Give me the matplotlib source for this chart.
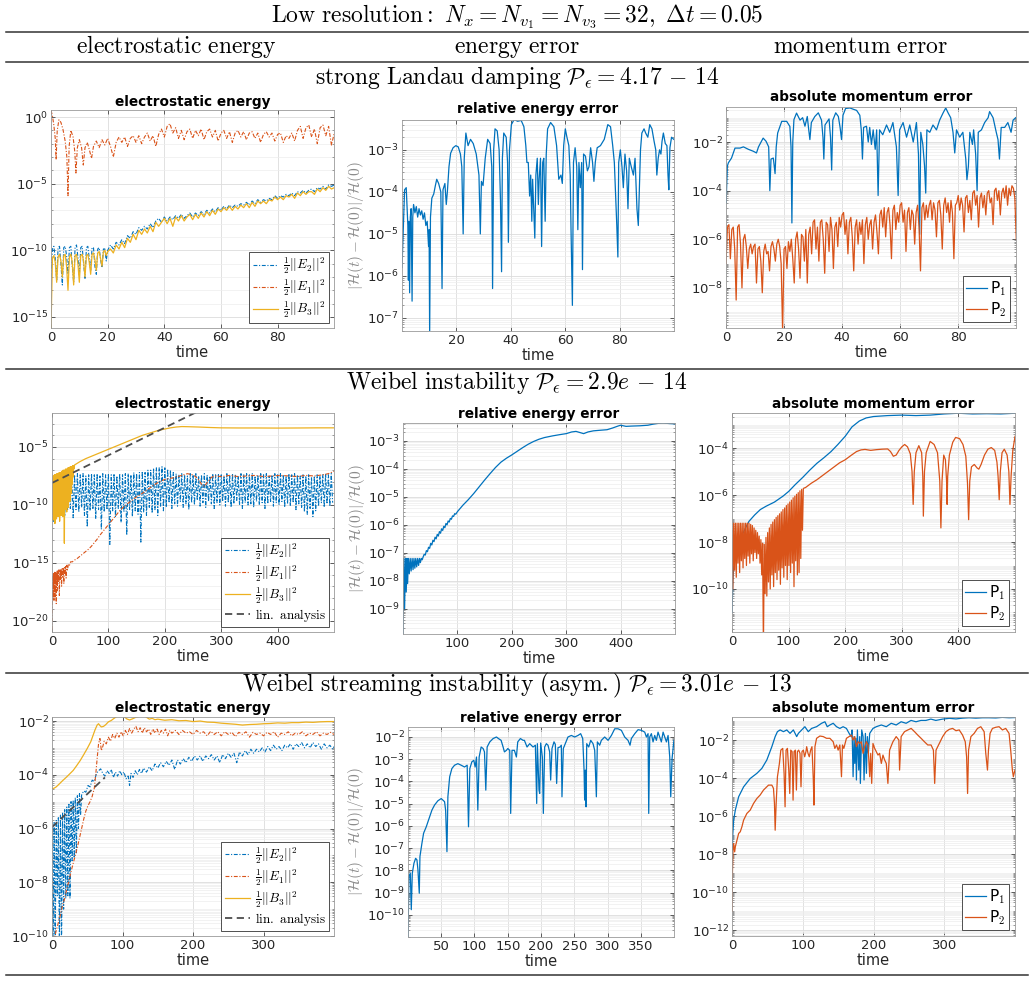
import numpy as np
import matplotlib
matplotlib.use('Agg')
import matplotlib.pyplot as plt
from matplotlib.lines import Line2D
from matplotlib.ticker import FixedLocator, FuncFormatter, NullFormatter

plt.rcParams['font.family'] = 'DejaVu Sans'
plt.rcParams['mathtext.fontset'] = 'cm'

W, H = 1034, 982
BLUE = '#0072BD'
ORANGE = '#D95319'
YELLOW = '#EDB120'
LINGREY = '#4d4d4d'

# ---------------- data (log10 of the plotted quantity) ----------------
# row 1: strong Landau damping, t in [0, 100]
R1_E2_EARLY = [-12.0, -9.9, -9.7, -10.6, -12.3, -9.8, -9.7, -11.0, -12.6, -9.8,
               -9.7, -10.4, -11.8, -9.8, -9.7, -11.2, -12.4, -9.8, -9.6, -10.5,
               -11.9, -9.8, -9.7, -11.0, -12.1, -9.8, -9.7, -10.6, -11.5, -9.8,
               -9.8, -11.2, -11.8, -9.9, -9.8, -10.7, -11.3, -9.9, -9.9, -10.8,
               -10.0]  # dt 0.5 from t=0
R1_E2_LATE = [-9.6, -9.9, -9.4, -9.6, -9.2, -9.5, -8.9, -9.1, -8.6, -8.8,
              -8.3, -8.5, -8.2, -8.4, -8.0, -8.3, -7.8, -7.6, -7.9, -7.5,
              -7.8, -7.5, -7.7, -7.4, -7.6, -7.3, -7.6, -7.4, -7.2, -7.5,
              -7.2, -7.4, -7.1, -7.3, -7.0, -7.2, -6.9, -7.1, -6.8, -7.0,
              -6.7, -6.9, -6.6, -6.8, -6.6, -6.7, -6.5, -6.6, -6.4, -6.6,
              -6.3, -6.5, -6.2, -6.4, -6.2, -6.3, -6.1, -6.2, -5.9, -6.1,
              -5.9, -6.0, -5.8, -5.9, -5.7, -5.9, -5.6, -5.7, -5.5, -5.7,
              -5.5, -5.4, -5.6, -5.3, -5.4, -5.2, -5.4, -5.1, -5.2, -5.1]  # dt 1 from t=21
R1_B3_EARLY = [-15.9, -10.6, -10.4, -10.9, -12.4, -10.5, -10.3, -10.8, -12.0, -10.4,
               -10.3, -11.2, -13.0, -10.5, -10.3, -10.9, -12.6, -10.4, -10.3, -11.0,
               -12.4, -10.4, -10.3, -10.8, -12.0, -10.4, -10.3, -10.9, -11.8, -10.3,
               -10.2, -10.7, -11.5, -10.2, -10.1, -10.6, -11.2, -10.1, -10.0, -10.4,
               -10.1]
R1_B3_LATE = [-9.9, -10.2, -9.6, -9.9, -9.4, -9.8, -9.1, -9.4, -8.8, -9.2,
              -8.5, -8.8, -8.4, -8.7, -8.2, -8.6, -7.9, -8.2, -7.9, -7.6,
              -8.0, -7.6, -8.2, -7.5, -7.8, -7.4, -7.8, -7.5, -7.3, -7.7,
              -7.3, -7.6, -7.2, -7.5, -7.1, -7.4, -7.0, -7.3, -6.9, -7.1,
              -6.8, -7.0, -6.7, -7.0, -6.7, -6.9, -6.6, -6.8, -6.5, -6.8,
              -6.4, -6.7, -6.3, -6.5, -6.3, -6.5, -6.2, -6.3, -6.0, -6.2,
              -6.0, -6.2, -5.9, -6.0, -5.8, -6.1, -5.7, -5.9, -5.6, -5.8,
              -5.6, -5.6, -5.8, -5.4, -5.6, -5.3, -5.5, -5.2, -5.4, -5.3]
R1_E1_EARLY = [(0, 0.5), (0.5, 0.1), (1.0, -0.6), (1.5, -1.6), (1.8, -3.2), (2.2, -1.0),
               (2.8, -0.2), (3.5, -0.4), (4.2, -0.9), (5.0, -1.8), (5.6, -3.0), (6.0, -5.9),
               (6.4, -2.2), (7.0, -1.0), (7.8, -1.5), (8.4, -2.6), (8.8, -4.2), (9.3, -2.3),
               (10.0, -1.7), (10.8, -2.3), (11.4, -3.6), (12.0, -2.3), (12.8, -1.9),
               (13.6, -2.5), (14.3, -3.1), (15.0, -2.2)]
R1_E1_LATE = [-1.8, -2.3, -1.7, -2.1, -1.6, -2.2, -3.0, -1.9, -1.5, -1.9,
              -1.5, -2.2, -1.6, -1.4, -1.9, -1.4, -2.0, -1.5, -1.2, -1.8,
              -1.4, -2.2, -1.3, -0.9, -1.5, -0.7, -0.5, -1.2, -0.8, -1.6,
              -1.0, -1.7, -1.1, -0.9, -1.6, -1.0, -1.4, -0.9, -1.7, -1.1,
              -0.9, -1.5, -1.0, -1.8, -1.2, -1.0, -1.6, -1.1, -1.9, -1.2,
              -1.0, -1.5, -1.1, -1.7, -1.2, -1.1, -1.6, -1.2, -1.9, -1.3,
              -1.1, -1.5, -1.2, -1.8, -1.3, -1.2, -1.9, -1.4, -1.6, -1.2,
              -1.8, -1.0, -0.7, -1.6, -0.8, -0.6, -1.5, -0.9, -2.0, -0.8,
              -0.6, -1.4, -0.7, -2.1, -1.2]  # dt 1 from t=16
R1_EERR = [(0.05, -5.8), (1.0, -3.95), (1.6, -3.9), (2.0, -4.5), (2.2, -4.8), (2.4, -6.1),
           (2.6, -4.7), (2.85, -6.4), (3.1, -4.6), (3.4, -4.4), (3.75, -6.6), (4.0, -4.6),
           (4.3, -4.3), (4.8, -4.5), (5.3, -4.35), (5.8, -4.6), (6.3, -4.4), (6.8, -4.55),
           (7.3, -4.45), (7.8, -4.65), (8.3, -4.5), (8.8, -4.8), (9.3, -4.7), (9.8, -5.3),
           (10.0, -4.9), (10.2, -7.4), (10.5, -4.6), (11.0, -4.15), (11.7, -4.05),
           (12.3, -3.85), (12.8, -3.7), (13.5, -3.8), (14.3, -4.0), (14.75, -6.3),
           (15.1, -3.95), (15.8, -3.8), (16.3, -4.3), (16.7, -4.0), (17.3, -3.4),
           (17.9, -3.08), (18.8, -2.95), (19.8, -2.9), (20.7, -2.93), (21.5, -3.1),
           (22.0, -3.4), (22.5, -5.0), (22.9, -3.2), (23.5, -2.6), (24.3, -2.9),
           (25.2, -2.75), (26.2, -2.85), (27.3, -3.1), (28.3, -3.6), (28.8, -5.0),
           (29.2, -3.75), (29.8, -3.85), (30.6, -3.2), (31.5, -2.75), (32.4, -2.85),
           (33.0, -3.4), (33.3, -6.3), (33.7, -3.0), (34.2, -2.5), (35.0, -2.55),
           (35.7, -3.0), (36.2, -4.2), (36.6, -5.9), (36.9, -3.2), (37.4, -2.6),
           (38.3, -2.7), (38.8, -3.3), (39.1, -5.2), (39.5, -3.0), (40.2, -2.4),
           (41.2, -2.28), (42.5, -2.32), (43.8, -2.3), (44.8, -2.45), (45.5, -2.9),
           (45.9, -3.3), (46.4, -3.3), (46.9, -4.1), (47.3, -3.6), (47.7, -4.7),
           (48.0, -3.7), (48.4, -4.4), (48.8, -5.1), (49.2, -3.6), (49.7, -3.2),
           (50.1, -4.3), (50.4, -3.7), (50.9, -3.2), (51.3, -5.3), (51.7, -3.3),
           (52.1, -3.2), (52.6, -4.7), (53.0, -3.1), (53.5, -2.5), (54.6, -2.35),
           (55.8, -2.45), (56.8, -2.9), (57.6, -3.7), (58.4, -3.6), (58.9, -3.8),
           (59.4, -2.9), (60.0, -2.5), (60.6, -2.7), (61.3, -2.9), (61.8, -3.6),
           (62.1, -4.9), (62.6, -6.7), (63.0, -3.3), (63.6, -2.95), (64.2, -3.4),
           (64.6, -4.9), (65.0, -3.3), (65.5, -3.9), (66.0, -3.3), (66.3, -5.85),
           (66.7, -3.1), (67.4, -3.15), (68.1, -3.5), (68.7, -3.4), (69.3, -2.95),
           (70.0, -3.3), (70.5, -3.75), (71.0, -3.3), (71.7, -2.95), (72.9, -2.9),
           (74.3, -2.75), (75.6, -2.4), (76.6, -2.45), (77.4, -2.9), (78.0, -3.3),
           (78.6, -4.3), (78.9, -4.8), (79.3, -5.55), (79.6, -3.3), (80.2, -3.0),
           (80.8, -3.4), (81.3, -3.9), (81.9, -3.1), (82.5, -3.5), (83.0, -4.4),
           (83.5, -3.2), (84.2, -3.4), (85.0, -3.6), (85.6, -3.2), (86.3, -4.4),
           (86.8, -4.8), (87.2, -3.9), (87.6, -3.0), (88.1, -2.6), (88.9, -2.5),
           (89.5, -2.6), (90.3, -2.7), (91.0, -2.4), (91.8, -2.5), (92.6, -2.8),
           (93.2, -3.0), (93.6, -3.6), (94.1, -3.2), (94.6, -3.0), (95.1, -3.1),
           (95.5, -2.8), (96.0, -2.6), (96.7, -2.85), (97.3, -2.9), (97.7, -3.6),
           (98.0, -3.95), (98.4, -2.95), (99.0, -2.7), (99.8, -2.75)]
R1_P1 = [(0.05, -4.5), (0.45, -3.0), (0.8, -2.86), (1.9, -2.66), (3.1, -2.25), (4.8, -2.25),
         (6.0, -2.2), (7.7, -2.3), (9.4, -2.38), (10.5, -2.45), (11.2, -2.2), (11.9, -2.04),
         (12.8, -1.84), (13.8, -1.97), (14.7, -2.2), (15.1, -4.0), (15.5, -2.7), (16.3, -2.66),
         (16.9, -3.3), (17.3, -2.2), (17.8, -1.63), (19.2, -1.15), (20.9, -1.15), (22.0, -1.36),
         (22.4, -2.2), (22.7, -5.33), (23.0, -2.0), (23.4, -1.08), (24.3, -0.81), (25.5, -1.1),
         (26.4, -1.0), (27.2, -1.35), (28.0, -0.95), (28.5, -1.5), (28.9, -1.9), (29.4, -1.2),
         (30.6, -0.95), (31.8, -0.8), (32.9, -1.1), (33.4, -1.8), (33.7, -2.7), (34.1, -1.3),
         (35.5, -1.05), (36.0, -1.8), (36.4, -3.15), (36.8, -1.1), (37.8, -0.8), (38.7, -0.95),
         (39.3, -1.4), (39.8, -1.9), (40.3, -0.9), (41.2, -0.62), (42.7, -0.6), (43.8, -0.65),
         (45.0, -0.7), (46.1, -0.9), (46.6, -1.5), (47.0, -2.7), (47.4, -1.4), (48.4, -1.35),
         (49.0, -2.0), (49.5, -1.4), (50.1, -2.1), (50.7, -1.5), (51.4, -2.3), (51.9, -1.5),
         (52.4, -4.2), (52.9, -1.5), (54.0, -1.7), (55.3, -1.3), (56.4, -1.6), (57.5, -1.2),
         (58.7, -2.2), (59.3, -4.2), (59.8, -1.5), (61.0, -1.2), (62.2, -1.8), (63.3, -1.3),
         (64.5, -2.0), (65.6, -1.2), (66.3, -2.5), (66.7, -5.8), (67.1, -1.6), (67.8, -2.1),
         (68.4, -3.0), (68.8, -4.1), (69.2, -1.5), (70.2, -1.6), (71.3, -1.3), (72.5, -1.5),
         (73.6, -1.1), (74.8, -0.8), (75.7, -0.6), (76.5, -0.8), (77.4, -1.0), (78.2, -1.6),
         (78.8, -2.45), (79.4, -1.5), (80.5, -1.8), (81.6, -1.6), (82.6, -2.7), (83.0, -3.55),
         (83.5, -3.0), (84.0, -1.6), (84.9, -2.1), (85.3, -1.5), (86.0, -2.5), (86.5, -4.0),
         (86.9, -1.6), (88.0, -1.5), (89.1, -1.2), (90.3, -1.0), (90.8, -0.75), (92.0, -1.0),
         (93.1, -1.6), (93.7, -1.9), (94.2, -2.7), (94.8, -1.4), (96.0, -1.4), (97.1, -1.2),
         (98.2, -1.6), (98.9, -1.1), (99.8, -1.0)]
R1_P2 = [-7.0, -5.5, -5.4, -6.8, -5.6, -5.5, -6.4, -8.5, -5.5, -5.4,
         -6.2, -8.0, -6.0, -5.8, -6.3, -7.2, -6.4, -6.2, -6.6, -6.3,
         -6.2, -7.8, -6.4, -6.3, -6.9, -8.2, -6.5, -6.2, -6.6, -6.5,
         -7.3, -6.3, -6.1, -6.4, -6.9, -6.2, -6.0, -6.3, -7.0, -9.8,
         -6.4, -6.3, -7.2, -6.1, -6.5, -6.0, -6.8, -7.8, -6.0, -5.7,
         -6.4, -7.6, -5.8, -5.9, -6.9, -5.6, -7.8, -5.8, -5.5, -6.6,
         -5.3, -5.2, -6.4, -5.5, -6.9, -5.3, -5.2, -6.0, -7.4, -5.3,
         -5.4, -6.5, -5.1, -5.6, -7.2, -5.5, -5.3, -6.3, -5.1, -5.5,
         -5.0, -4.9, -5.8, -5.2, -6.6, -5.3, -5.1, -5.9, -7.3, -5.5,
         -5.2, -6.2, -5.3, -5.8, -5.2, -7.0, -5.4, -5.1, -6.0, -5.4,
         -5.2, -6.4, -5.3, -5.0, -5.7, -6.6, -5.0, -4.8, -5.5, -4.7,
         -5.9, -4.9, -4.7, -5.4, -6.8, -4.8, -4.6, -5.6, -4.9, -5.3,
         -4.6, -4.5, -5.3, -4.8, -6.5, -4.9, -4.7, -5.6, -4.8, -5.0,
         -6.2, -4.9, -4.6, -5.5, -7.3, -4.7, -4.5, -5.2, -4.6, -5.1,
         -4.6, -4.4, -5.2, -4.5, -4.8, -5.9, -4.5, -4.4, -5.0, -6.4,
         -4.6, -4.3, -4.9, -4.5, -5.3, -4.4, -4.9, -6.8, -4.6, -4.5,
         -4.2, -4.8, -4.3, -4.6, -5.7, -4.3, -4.2, -4.9, -4.4, -5.2,
         -4.1, -4.0, -4.6, -4.2, -5.5, -4.3, -4.1, -4.7, -4.2, -5.0,
         -4.1, -4.0, -4.5, -4.3, -5.4, -4.0, -3.9, -4.4, -4.0, -5.0,
         -4.1, -3.9, -4.3, -3.8, -4.6, -3.9, -4.2, -3.8, -3.9, -4.3,
         -6.0]  # dt 0.5 from t=0

# row 2: Weibel instability, t in [0, 500]
R2_E2_HI = [-7.6, -7.4, -7.5, -7.3, -7.4, -7.5, -7.3, -7.4, -7.4, -7.3,
            -7.4, -7.3, -7.5, -7.4, -7.3, -7.4, -7.3, -7.5, -7.3, -7.4,
            -7.3, -7.4, -7.3, -7.5, -7.3, -7.4, -7.3, -7.3, -7.4, -7.2,
            -7.3, -7.2, -7.1, -7.2, -7.0, -7.0, -6.9, -6.8, -6.8, -6.7,
            -6.8, -6.9, -7.0, -7.2, -7.3, -7.4, -7.3, -7.4, -7.5, -7.3,
            -7.4, -7.3, -7.5, -7.4, -7.3, -7.4, -7.5, -7.3, -7.4, -7.3,
            -7.4, -7.5, -7.3, -7.4, -7.3, -7.4, -7.5, -7.3, -7.4, -7.3,
            -7.4, -7.3, -7.5, -7.4, -7.3, -7.4, -7.3, -7.5, -7.4, -7.3,
            -7.4, -7.3, -7.4, -7.5, -7.3, -7.4, -7.3, -7.4, -7.5, -7.4,
            -7.5, -7.4, -7.6, -7.5, -7.4, -7.5, -7.4, -7.3, -7.4, -7.3]  # t = 0, 5, ...
R2_E2_LO = [-11.4, -10.4, -10.8, -10.2, -11.0, -10.5, -10.3, -11.1, -10.4, -10.6,
            -10.2, -10.9, -11.9, -10.5, -10.3, -11.2, -10.4, -12.1, -10.6, -10.4,
            -13.4, -10.5, -11.0, -10.3, -11.5, -10.6, -12.6, -10.4, -11.0, -10.5,
            -10.8, -13.2, -10.6, -10.9, -10.2, -10.7, -10.4, -10.9, -10.1, -10.5,
            -10.2, -9.8, -10.3, -9.9, -10.1, -9.7, -10.2, -9.9, -10.4, -9.8,
            -10.0, -9.6, -10.1, -9.8, -10.2, -9.7, -9.9, -10.3, -9.8, -10.0,
            -9.7, -10.1, -9.8, -10.2, -9.9, -9.6, -10.0, -10.3, -9.8, -10.0,
            -9.9, -10.2, -9.7, -10.0, -9.8, -10.3, -9.9, -9.7, -10.1, -9.8,
            -10.0, -9.7, -10.2, -9.9, -10.1, -9.8, -10.4, -9.9, -10.2, -10.6,
            -10.8, -10.3, -11.0, -10.5, -10.1, -9.8, -10.2, -9.9, -10.1, -9.8]  # t = 2.5, 7.5, ...
R2_E1 = [(0.05, -21.5), (0.5, -17.5), (1.0, -16.2), (1.5, -18.0), (2.0, -16.0), (2.5, -17.2),
         (3.0, -15.9), (3.5, -18.3), (4.0, -16.0), (4.5, -16.8), (5.0, -15.8), (5.5, -17.9),
         (6.0, -15.9), (6.5, -16.6), (7.0, -15.8), (7.5, -18.5), (8.0, -15.8), (8.5, -16.9),
         (9.0, -15.7), (9.5, -17.4), (10.0, -15.7), (11.0, -16.6), (12.0, -15.6), (13.0, -17.8),
         (14.0, -15.6), (15.0, -16.4), (16.0, -15.5), (17.0, -17.0), (18.0, -15.5), (19.0, -16.2),
         (20.0, -15.4), (21.0, -16.8), (22.0, -15.4), (23.0, -15.9), (24.0, -15.3), (25.0, -16.3),
         (26.0, -15.2), (27.5, -15.6), (29.0, -15.1), (31.0, -15.2), (33.0, -14.9), (36.0, -14.9),
         (40.0, -14.75), (45.0, -14.6), (50.0, -14.4), (55.0, -14.2), (60.0, -14.0), (65.0, -13.8),
         (70.0, -13.55), (75.0, -13.25), (80.0, -12.95), (85.0, -12.6), (90.0, -12.3), (95.0, -12.0),
         (100.0, -11.7), (105.0, -11.4), (110.0, -11.1), (115.0, -10.8), (120.0, -10.5),
         (125.0, -10.25), (130.0, -10.05), (140.0, -9.65), (150.0, -9.3), (160.0, -9.0),
         (170.0, -8.65), (180.0, -8.3), (190.0, -8.0), (200.0, -7.8), (210.0, -7.7), (220.0, -7.6),
         (230.0, -7.45), (240.0, -7.3), (250.0, -7.4), (258.0, -7.7), (265.0, -8.2), (270.0, -8.4),
         (276.0, -8.0), (283.0, -7.6), (290.0, -7.5), (300.0, -7.55), (315.0, -7.45), (330.0, -7.55),
         (345.0, -7.5), (360.0, -7.45), (375.0, -7.55), (390.0, -7.5), (405.0, -7.45), (420.0, -7.5),
         (435.0, -7.55), (450.0, -7.45), (465.0, -7.5), (480.0, -7.4), (490.0, -7.3), (500.0, -7.1)]
R2_B3 = [(0.05, -9.5), (0.4, -7.6), (1.0, -10.8), (1.6, -7.5), (2.3, -11.3), (3.0, -7.5),
         (3.7, -10.6), (4.4, -7.4), (5.1, -11.6), (5.8, -7.4), (6.5, -10.9), (7.2, -7.4),
         (7.9, -11.2), (8.6, -7.3), (9.3, -10.5), (10.0, -7.3), (10.7, -11.0), (11.4, -7.3),
         (12.1, -10.7), (12.8, -7.2), (13.5, -11.4), (14.2, -7.2), (14.9, -10.6), (15.6, -7.2),
         (16.3, -10.9), (17.0, -7.1), (17.7, -10.3), (18.4, -7.1), (19.1, -11.0), (19.8, -7.0),
         (20.5, -10.2), (21.2, -7.0), (21.9, -13.3), (22.6, -7.0), (23.3, -10.4), (24.0, -6.9),
         (24.7, -9.9), (25.4, -6.9), (26.1, -10.6), (26.8, -6.9), (27.5, -9.6), (28.2, -6.8),
         (28.9, -10.2), (29.6, -6.8), (30.3, -9.3), (31.0, -6.8), (31.7, -9.7), (32.4, -6.7),
         (33.1, -8.9), (33.8, -6.7), (34.5, -9.0), (35.2, -6.7), (35.9, -8.2), (36.6, -6.6),
         (37.3, -7.6), (38.0, -6.6), (39.0, -6.9), (40.0, -6.55), (45.0, -6.4), (50.0, -6.25),
         (60.0, -6.0), (70.0, -5.8), (80.0, -5.6), (90.0, -5.4), (100.0, -5.2), (110.0, -5.0),
         (120.0, -4.8), (130.0, -4.6), (140.0, -4.4), (150.0, -4.2), (160.0, -4.0), (170.0, -3.85),
         (180.0, -3.7), (190.0, -3.55), (200.0, -3.45), (210.0, -3.35), (220.0, -3.28),
         (230.0, -3.24), (240.0, -3.25), (260.0, -3.28), (280.0, -3.32), (300.0, -3.35),
         (330.0, -3.36), (360.0, -3.36), (400.0, -3.37), (440.0, -3.36), (470.0, -3.35),
         (500.0, -3.35)]
R2_LIN = [(0.0, -8.1), (260.0, -1.9)]
R2_EERR = [(0.05, -9.9), (0.5, -7.2), (1.5, -7.2), (3.0, -9.0), (4.5, -7.2), (6.0, -8.4),
           (7.3, -7.2), (8.5, -8.1), (10.0, -7.2), (11.6, -7.75), (13.3, -7.2), (15.0, -7.65),
           (16.8, -7.2), (18.5, -7.6), (20.2, -7.2), (21.8, -7.55), (23.5, -7.2), (25.2, -7.5),
           (27.0, -7.2), (28.7, -7.45), (30.4, -7.2), (32.0, -7.35), (33.7, -7.2), (35.3, -7.25),
           (37, -7.15), (39, -7.05), (41, -7.08), (43, -6.92), (45, -6.96), (47, -6.8),
           (49, -6.84), (51, -6.66), (53, -6.72), (55, -6.55), (57, -6.6), (59, -6.44),
           (61, -6.5), (63, -6.34), (65, -6.4), (67, -6.24), (69, -6.3), (71, -6.14),
           (73, -6.2), (75, -6.05), (77, -6.1), (79, -5.95), (81, -6.0), (83, -5.86),
           (85, -5.9), (87, -5.77), (89, -5.8), (91, -5.68), (93, -5.7), (95, -5.6),
           (97, -5.62), (100, -5.53), (110, -5.3), (120, -5.1), (130, -4.88), (140, -4.64),
           (150, -4.4), (160, -4.17), (170, -3.95), (180, -3.76), (190, -3.62), (200, -3.5),
           (210, -3.37), (220, -3.24), (230, -3.12), (240, -3.02), (250, -2.94), (260, -2.88),
           (275, -2.82), (290, -2.77), (300, -2.74), (310, -2.68), (318, -2.66), (325, -2.7),
           (332, -2.74), (340, -2.68), (350, -2.64), (362, -2.62), (375, -2.6), (385, -2.54),
           (395, -2.47), (400, -2.44), (410, -2.48), (420, -2.47), (435, -2.46), (450, -2.44),
           (460, -2.4), (470, -2.37), (478, -2.36), (490, -2.38), (500, -2.39)]
R2_P1 = [(0.05, -11.0), (1.5, -9.6), (3, -9.1), (5, -8.75), (10, -8.3), (15, -7.9), (20, -7.6),
         (25, -7.35), (30, -7.12), (40, -6.85), (50, -6.62), (60, -6.48), (75, -6.3), (90, -6.05),
         (100, -5.85), (112, -5.55), (125, -5.25), (137, -4.95), (150, -4.65), (162, -4.42),
         (175, -4.15), (187, -3.85), (200, -3.5), (212, -3.1), (225, -2.85), (237, -2.72),
         (250, -2.66), (275, -2.62), (300, -2.6), (325, -2.62), (350, -2.6), (375, -2.55),
         (400, -2.52), (425, -2.55), (450, -2.54), (475, -2.55), (500, -2.52)]
R2_P2_HI = [-7.5, -7.2, -7.2, -7.2, -7.2, -7.2, -7.2, -7.2, -7.2, -7.2, -7.2,
            -7.25, -7.3, -7.4, -7.5, -7.6, -7.75, -7.9, -8.05, -8.1, -7.8,
            -7.6, -7.4, -7.25, -7.15, -7.05, -6.95, -6.88, -6.8, -6.72, -6.62,
            -6.55, -6.45, -6.38, -6.3, -6.22, -6.12, -6.05, -5.97, -5.9, -5.82, -5.76]  # t = 0, 3, ...
R2_P2_LO = [-10.0, -9.2, -9.5, -8.9, -9.3, -8.8, -9.1, -8.7, -9.0, -8.6,
            -8.9, -8.5, -8.8, -8.45, -8.7, -8.5, -8.9, -9.4, -12.5, -10.2,
            -10.3, -9.7, -10.0, -9.4, -9.9, -9.3, -9.6, -9.2, -9.8, -9.1,
            -9.5, -9.0, -9.6, -9.0, -9.3, -8.9, -9.9, -8.8, -9.4, -9.3,
            -8.7, -7.5]  # t = 1.5, 4.5, ...
R2_P2_TAIL = [(126, -5.72), (130, -5.68), (140, -5.5), (150, -5.35), (160, -5.17), (175, -4.9),
              (190, -4.63), (200, -4.5), (210, -4.32), (220, -4.15), (228, -4.08), (235, -4.06),
              (245, -4.1), (255, -4.07), (265, -4.05), (275, -4.04), (280, -4.15), (285, -4.35),
              (290, -4.3), (295, -4.1), (300, -3.95), (305, -3.85), (310, -3.95), (315, -4.25),
              (318, -5.0), (320, -6.4), (322, -5.0), (325, -4.2), (330, -3.9), (335, -4.2),
              (337, -5.2), (338, -6.9), (340, -5.0), (343, -4.2), (350, -3.72), (357, -3.85),
              (363, -4.2), (367, -5.4), (369, -7.4), (371, -5.4), (374, -4.3), (377, -4.5),
              (379, -5.4), (380, -6.4), (381, -5.2), (384, -4.3), (390, -3.75), (395, -3.55),
              (402, -3.6), (408, -3.85), (413, -4.35), (416, -5.5), (418, -7.05), (420, -5.4),
              (423, -4.8), (428, -4.7), (433, -4.85), (436, -4.9), (440, -4.7), (446, -4.3),
              (452, -4.05), (458, -3.98), (464, -4.1), (468, -4.6), (470, -5.2), (472, -6.2),
              (474, -5.0), (477, -4.2), (481, -4.05), (486, -4.3), (489, -5.0), (491, -6.4),
              (493, -5.2), (496, -4.1), (500, -3.5)]

# row 3: Weibel streaming instability, t in [0, 400]
R3_B3 = [(0, -4.52), (3, -4.5), (6, -4.45), (10, -4.35), (15, -4.22), (20, -4.1), (25, -3.97),
         (30, -3.84), (35, -3.66), (40, -3.47), (45, -3.25), (50, -3.02), (55, -2.77), (58, -2.55),
         (61, -2.33), (64, -2.15), (66, -2.1), (68, -2.17), (70, -2.22), (73, -2.2), (76, -2.14),
         (80, -2.03), (84, -1.98), (88, -1.9), (92, -1.83), (96, -1.8), (100, -1.78), (103, -1.85),
         (106, -1.92), (110, -1.96), (114, -1.92), (118, -1.87), (122, -1.84), (126, -1.8),
         (130, -1.78), (134, -1.86), (138, -1.93), (142, -1.9), (146, -1.95), (150, -1.93),
         (160, -1.97), (170, -1.95), (180, -1.99), (190, -1.98), (200, -2.02), (210, -2.0),
         (220, -2.04), (230, -2.05), (240, -2.08), (250, -2.1), (260, -2.12), (270, -2.15),
         (280, -2.13), (290, -2.12), (300, -2.1), (310, -2.09), (320, -2.07), (330, -2.08),
         (340, -2.06), (350, -2.06), (360, -2.04), (370, -2.05), (380, -2.03), (390, -2.02),
         (400, -2.02)]
R3_E1 = [(0, -10.2), (3, -10.1), (6, -9.8), (9, -9.5), (12, -9.2), (15, -8.85), (18, -8.6),
         (21, -8.25), (24, -7.95), (27, -7.6), (30, -7.3), (33, -7.0), (36, -6.7), (39, -6.35),
         (42, -6.0), (45, -5.65), (48, -5.35), (51, -5.15), (54, -5.0), (57, -4.8), (60, -4.5),
         (62, -4.0), (64, -3.4), (66, -2.85), (68, -2.65), (70, -3.1), (72, -2.95), (74, -2.75),
         (77, -2.85), (80, -2.6), (83, -2.75), (86, -2.5), (89, -2.65), (92, -2.45), (95, -2.6),
         (98, -2.4), (101, -2.55), (104, -2.35), (107, -2.5), (110, -2.28), (113, -2.45),
         (116, -2.3), (119, -2.2), (122, -2.4), (125, -2.25), (128, -2.45), (131, -2.25),
         (134, -2.4), (137, -2.3), (140, -2.5), (143, -2.3), (146, -2.45), (149, -2.3),
         (152, -2.5), (155, -2.35), (158, -2.45), (161, -2.3), (164, -2.55), (167, -2.35),
         (170, -2.45), (175, -2.35), (180, -2.5), (185, -2.35), (190, -2.45), (195, -2.4),
         (200, -2.5), (205, -2.35), (210, -2.45), (215, -2.4), (220, -2.55), (225, -2.38),
         (230, -2.5), (235, -2.4), (240, -2.55), (245, -2.4), (250, -2.5), (255, -2.42),
         (260, -2.58), (265, -2.42), (270, -2.5), (275, -2.4), (280, -2.6), (285, -2.42),
         (290, -2.5), (295, -2.45), (300, -2.55), (305, -2.42), (310, -2.5), (315, -2.4),
         (320, -2.6), (325, -2.45), (330, -2.5), (335, -2.4), (340, -2.55), (345, -2.45),
         (350, -2.5), (355, -2.4), (360, -2.55), (365, -2.45), (370, -2.5), (375, -2.4),
         (380, -2.55), (385, -2.45), (390, -2.5), (395, -2.42), (400, -2.5)]
R3_E2_HI = [-5.9, -5.78, -5.7, -5.6, -5.5, -5.4, -5.3, -5.2, -5.1, -5.0,
            -4.95, -4.85, -4.78, -4.7]  # t = 0, 3, ...
R3_E2_LO = [-10.5, -10.5, -8.5, -10.5, -10.5, -9.0, -8.6, -8.5, -8.6, -7.2,
            -7.1, -6.9, -6.0, -5.5]  # t = 1.5, 4.5, ...
R3_E2_TAIL = [(42, -4.75), (45, -4.6), (48, -4.65), (51, -4.4), (54, -4.45), (57, -4.2),
              (60, -4.25), (63, -3.95), (66, -3.85), (69, -3.78), (72, -3.95), (75, -4.05),
              (78, -3.85), (81, -3.95), (84, -3.8), (87, -4.1), (90, -3.9), (93, -4.05),
              (96, -3.85), (99, -4.0), (102, -3.9), (105, -4.15), (108, -4.05), (110, -4.4),
              (112, -3.95), (115, -4.1), (118, -3.85), (121, -4.0), (124, -3.8), (127, -3.95),
              (130, -3.75), (134, -3.9), (138, -3.7), (142, -3.85), (146, -3.6), (150, -3.75),
              (154, -3.55), (158, -3.7), (162, -3.5), (166, -3.65), (170, -3.45), (174, -3.8),
              (178, -3.45), (182, -3.6), (186, -3.4), (190, -3.55), (194, -3.35), (198, -3.5),
              (202, -3.3), (206, -3.45), (210, -3.3), (214, -3.5), (218, -3.3), (222, -3.4),
              (226, -3.25), (230, -3.45), (234, -3.3), (238, -3.55), (242, -3.25), (246, -3.4),
              (250, -3.2), (254, -3.35), (258, -3.2), (262, -3.55), (266, -3.15), (270, -3.3),
              (274, -3.1), (278, -3.25), (282, -3.05), (286, -3.2), (290, -3.05), (294, -3.15),
              (298, -3.0), (302, -3.15), (306, -2.95), (310, -3.1), (314, -2.9), (318, -3.05),
              (322, -2.95), (326, -3.1), (330, -2.9), (334, -3.0), (338, -2.85), (342, -3.05),
              (346, -2.85), (350, -2.95), (354, -2.8), (358, -3.0), (362, -2.85), (366, -3.0),
              (370, -2.8), (374, -2.95), (378, -2.85), (382, -3.05), (386, -2.85), (390, -3.0),
              (394, -2.9), (398, -3.05), (400, -2.95)]
R3_LIN = [(0.0, -5.95), (75.0, -4.1)]
R3_EERR = [(0.05, -11.0), (1.5, -8.28), (3.5, -8.13), (5, -9.77), (6.5, -8.13), (9, -7.68),
           (11.5, -7.46), (13.5, -7.53), (15, -7.98), (17, -9.03), (18, -7.38), (21, -6.78),
           (23.5, -6.33), (27.5, -6.04), (32.5, -5.59), (36, -5.29), (40, -5.06), (45, -4.87),
           (50, -4.77), (55, -4.91), (56.6, -5.29), (58.6, -7.16), (60, -4.69), (62.7, -3.79),
           (66, -3.42), (70, -3.27), (75, -3.2), (80, -3.27), (85, -3.35), (89, -3.27),
           (91, -6.04), (93, -3.42), (96, -3.12), (99, -3.05), (101, -3.35), (103, -2.9),
           (105, -5.29), (107, -2.9), (110, -2.45), (113, -2.52), (115, -2.67), (117, -4.39),
           (119, -2.45), (123, -2.22), (128, -2.07), (133, -2.0), (136, -2.07), (140, -2.15),
           (143, -2.45), (145, -2.67), (148, -2.6), (150, -2.52), (153, -2.6), (154.4, -5.44),
           (156.4, -2.6), (160, -2.6), (163, -2.9), (165, -2.22), (169, -2.07), (173, -2.15),
           (175, -2.15), (179, -2.45), (183, -2.3), (188, -2.45), (191.5, -2.37), (193.5, -4.99),
           (194.5, -2.3), (197, -4.39), (198, -4.54), (199.5, -2.27), (202, -2.9), (203.5, -5.44),
           (205.5, -2.45), (208, -2.3), (210.5, -2.37), (213, -2.67), (214.5, -3.94),
           (216.5, -2.52), (219.5, -2.22), (221.5, -2.33), (223.5, -4.09), (225.5, -2.48),
           (228.5, -2.45), (230.5, -2.37), (231.5, -4.69), (233.5, -2.52), (236.5, -2.3),
           (240.5, -2.0), (245.6, -1.93), (250.6, -2.0), (255.6, -1.93), (259.6, -1.85),
           (262.7, -2.07), (264.7, -3.49), (265.6, -4.84), (266.6, -3.49), (267.7, -5.14),
           (268.7, -2.3), (271.7, -2.45), (274.7, -2.15), (278.2, -2.3), (280.7, -2.6),
           (283.2, -4.69), (284.7, -2.22), (288.2, -2.37), (290.7, -2.15), (295.7, -2.0),
           (300.8, -2.15), (305.8, -1.93), (310.8, -1.63), (315.8, -1.63), (320.8, -1.7),
           (325.8, -2.0), (330.8, -2.15), (333.8, -2.37), (335.8, -2.07), (340.9, -1.85),
           (345.9, -1.67), (350.9, -1.7), (355.9, -1.78), (358.4, -2.0), (360.9, -1.85),
           (361.9, -5.44), (363.4, -2.0), (365.9, -1.85), (368.4, -2.22), (370.9, -1.93),
           (373.4, -2.15), (375.9, -1.78), (378.4, -2.0), (380.9, -2.22), (383.5, -1.78),
           (386, -2.0), (388.5, -2.22), (391, -1.93), (393.5, -2.9), (395, -4.69), (397, -2.97),
           (399.8, -2.15)]
R3_P1 = [(0.05, -9.2), (0.9, -7.09), (2.3, -6.21), (4.7, -5.68), (9.4, -4.98), (16.4, -4.46),
         (25.8, -4.02), (35.2, -3.75), (42.2, -3.49), (49.2, -3.05), (56.3, -2.35), (61, -1.82),
         (64.2, -1.56), (68, -1.47), (72.7, -1.56), (77.4, -1.47), (82, -1.65), (86.7, -1.47),
         (91.4, -1.82), (93.8, -1.65), (98.5, -1.47), (103, -1.3), (107.8, -1.56), (112.5, -1.39),
         (119.5, -1.3), (126.6, -1.12), (131.3, -1.04), (134.6, -1.3), (138.3, -1.21),
         (143, -1.12), (147.7, -1.3), (152.4, -1.39), (157, -1.3), (161.7, -1.39), (165.5, -1.65),
         (168.3, -1.82), (169.7, -1.47), (171.1, -3.93), (172.5, -1.82), (173.5, -3.23),
         (174.9, -1.91), (175.8, -4.1), (177.2, -1.47), (179.1, -3.58), (180.5, -1.82),
         (181.4, -4.28), (183.3, -1.47), (185.2, -1.82), (186.6, -4.1), (188.5, -1.65),
         (189.9, -3.75), (191.3, -1.82), (192.7, -2.7), (194.6, -1.65), (199.2, -1.39),
         (203.9, -1.3), (211, -1.21), (218, -1.3), (225, -1.12), (232, -1.21), (239, -1.04),
         (246, -1.12), (253, -0.97), (260, -1.04), (267, -0.97), (274, -0.97), (281, -0.9),
         (288, -0.97), (297.7, -0.9), (307, -0.86), (316.5, -0.89), (325.8, -0.85),
         (335, -0.83), (344.6, -0.85), (354, -0.83), (363, -0.83), (372.7, -0.84),
         (382, -0.81), (391.5, -0.83), (399.8, -0.82)]
R3_P2 = [(0.05, -11.0), (0.5, -9.19), (1.4, -7.79), (2.3, -7.44), (3.75, -7.88), (4.7, -7.61),
         (7, -7.26), (9.4, -6.91), (11.7, -6.82), (14, -6.56), (16.4, -6.21), (21, -5.86),
         (25.8, -5.68), (30.5, -5.33), (35.2, -5.07), (39.8, -4.89), (44.5, -4.63), (51.6, -4.37),
         (56.3, -4.37), (58.6, -4.54), (60, -5.33), (61, -6.74), (62.4, -5.33), (64.2, -3.93),
         (67, -3.23), (69, -2.53), (71.7, -2.44), (73.6, -3.75), (75, -5.51), (76.4, -2.53),
         (78.3, -2.44), (80.2, -3.58), (81.6, -4.81), (83, -2.53), (84.9, -2.61), (86.3, -5.16),
         (87.7, -2.61), (89.5, -2.53), (91, -4.63), (92.4, -2.61), (94.2, -2.53), (96.1, -2.7),
         (97.5, -4.46), (98.9, -2.61), (100.8, -2.53), (102.7, -2.88), (104.5, -2.61),
         (105.5, -2.35), (107.4, -2.7), (109.2, -2.88), (111.1, -2.53), (113, -2.35),
         (114.9, -4.1), (115.8, -5.42), (117.2, -2.35), (119.5, -1.91), (124.2, -1.79),
         (128.9, -1.82), (133.6, -1.91), (138.3, -1.91), (143, -2.09), (145.3, -2.44),
         (147.7, -2.26), (150, -2.53), (152.4, -2.26), (154.7, -3.93), (156.1, -2.26),
         (158, -2.44), (161.7, -1.91), (165.5, -1.82), (168.8, -1.74), (171.1, -2.0),
         (173.5, -1.82), (175.8, -2.35), (178.2, -2.09), (180.5, -2.18), (182.8, -2.09),
         (185.2, -2.7), (187.5, -2.35), (189.9, -2.09), (192.2, -2.26), (194.6, -3.93),
         (196, -2.7), (197.4, -4.28), (199.2, -2.18), (201.6, -2.44), (203.9, -2.61),
         (206.3, -2.79), (208.6, -2.7), (211, -3.23), (213.3, -2.79), (215.7, -3.05),
         (218, -3.23), (220.3, -4.28), (222.7, -2.53), (227.4, -2.09), (232, -1.82),
         (235.8, -2.0), (236.8, -3.58), (239, -1.82), (243.8, -1.56), (248.5, -1.47),
         (253.2, -1.39), (257.9, -1.56), (262.5, -1.74), (267.2, -1.91), (271.9, -2.09),
         (276.6, -2.26), (281.3, -2.26), (284.6, -2.53), (286.4, -4.28), (288.3, -2.53),
         (293, -2.18), (297.7, -1.82), (302.4, -1.56), (307, -1.44), (311.8, -1.39),
         (316.5, -1.51), (321.1, -1.47), (325.8, -1.74), (329.6, -2.09), (331.5, -2.88),
         (332.9, -4.81), (334.3, -2.53), (337.6, -1.82), (342.2, -1.65), (346.9, -1.39),
         (351.6, -1.3), (356.3, -1.56), (358.6, -2.7), (361, -3.58), (362.4, -2.53),
         (364.7, -1.65), (368, -1.39), (372.7, -1.33), (377.4, -1.3), (382.1, -1.47),
         (386.8, -1.39), (391.5, -1.65), (393.8, -2.53), (396.2, -3.58), (397.6, -3.93),
         (399.8, -3.58)]


# ---------------- helpers ----------------
def from_pairs(p):
    t, v = zip(*p)
    return np.array(t, float), 10.0 ** np.array(v, float)


def from_uniform(vals, t0, dt):
    return t0 + dt * np.arange(len(vals)), 10.0 ** np.array(vals, float)


def from_zigzag(hi, lo, step):
    t = np.concatenate([step * np.arange(len(hi)), step / 2 + step * np.arange(len(lo))])
    v = np.concatenate([hi, lo])
    o = np.argsort(t)
    return t[o], 10.0 ** v[o]


def join(*parts):
    return np.concatenate([p[0] for p in parts]), np.concatenate([p[1] for p in parts])


fig = plt.figure(figsize=(W / 100, H / 100), dpi=100)


def add_ax(x0, y0, x1, y1):
    return fig.add_axes([x0 / W, 1 - y1 / H, (x1 - x0) / W, (y1 - y0) / H])


def setup(ax, xlim, ylim, xticks, ydec, fine, title, tpad=3.5):
    ax.set_yscale('log')
    ax.set_xlim(*xlim)
    ax.set_ylim(10.0 ** ylim[0], 10.0 ** ylim[1])
    ax.set_xticks(xticks)
    ax.yaxis.set_major_locator(FixedLocator([10.0 ** d for d in ydec]))
    ax.yaxis.set_major_formatter(FuncFormatter(
        lambda v, p: r'$\mathregular{10^{%d}}$' % int(round(np.log10(v)))))
    lo, hi = int(np.floor(ylim[0])), int(np.ceil(ylim[1]))
    minor = []
    for d in range(lo, hi + 1):
        if d not in ydec:
            minor.append(10.0 ** d)
        if fine:
            minor += [k * 10.0 ** d for k in range(2, 10)]
    ax.yaxis.set_minor_locator(FixedLocator(minor))
    ax.yaxis.set_minor_formatter(NullFormatter())
    ax.grid(True, which='major', color='#dcdcdc', lw=0.6)
    ax.grid(True, which='minor', axis='y', color='#ededed', lw=0.5)
    ax.set_axisbelow(True)
    ax.tick_params(which='major', direction='in', top=True, right=True, length=3,
                   width=0.5, labelsize=9.5, colors='#262626', pad=2)
    ax.tick_params(which='minor', direction='in', right=True, length=1.5, width=0.4,
                   colors='#555555')
    for s in ax.spines.values():
        s.set_color('#9a9a9a')
        s.set_linewidth(0.6)
    ax.set_xlabel('time', fontsize=10.5, color='#262626', labelpad=1)
    ax.set_title(title, fontsize=9.8, fontweight='bold', pad=tpad)


DASHDOT = (0, (3.5, 1.5, 1.0, 1.5))
LAB = [r'$\frac{1}{2}||E_2||^2$', r'$\frac{1}{2}||E_1||^2$', r'$\frac{1}{2}||B_3||^2$',
       r'$\mathrm{lin.\ analysis}$']
EERR_LABEL = r'$|\mathcal{H}(t)-\mathcal{H}(0)|/\mathcal{H}(0)$'


def energy_panel(ax, e2, e1, b3, lin=None):
    ax.plot(*e2, color=BLUE, lw=0.8, ls=DASHDOT, label=LAB[0])
    ax.plot(*e1, color=ORANGE, lw=0.8, ls=DASHDOT, label=LAB[1])
    ax.plot(*b3, color=YELLOW, lw=0.9, label=LAB[2])
    if lin is not None:
        ax.plot(*lin, color=LINGREY, lw=1.3, ls=(0, (4, 2.5)), label=LAB[3])
    leg = ax.legend(loc='lower right', fontsize=9.5, fancybox=False, edgecolor='#333333',
                    framealpha=1, borderpad=0.25, labelspacing=0.1, handlelength=1.9,
                    handletextpad=0.4, borderaxespad=0.35)
    leg.get_frame().set_linewidth(0.6)


def momentum_panel(ax, p1, p2):
    ax.plot(*p1, color=BLUE, lw=0.9, label=r'P$_1$')
    ax.plot(*p2, color=ORANGE, lw=0.9, label=r'P$_2$')
    leg = ax.legend(loc='lower right', fontsize=11, fancybox=False, edgecolor='#333333',
                    framealpha=1, borderpad=0.2, labelspacing=0.15, handlelength=1.4,
                    handletextpad=0.2, borderaxespad=0.4)
    leg.get_frame().set_linewidth(0.6)


def eerr_panel(ax, data):
    ax.plot(*data, color=BLUE, lw=0.9)
    ax.set_ylabel(EERR_LABEL, fontsize=11, color='#8a8a8a', labelpad=1)


# ---------------- row 1 ----------------
a = add_ax(51, 110, 334, 328)
setup(a, (0, 99.9), (-15.83, 0.53), [0, 20, 40, 60, 80], [0, -5, -10, -15], False,
      'electrostatic energy', tpad=3)
energy_panel(a,
             join(from_uniform(R1_E2_EARLY, 0, 0.5), from_uniform(R1_E2_LATE, 21, 1)),
             join(from_pairs(R1_E1_EARLY), from_uniform(R1_E1_LATE, 16, 1)),
             join(from_uniform(R1_B3_EARLY, 0, 0.5), from_uniform(R1_B3_LATE, 21, 1)))

a = add_ax(402, 120, 674, 331)
setup(a, (0.05, 99.9), (-7.31, -2.29), [20, 40, 60, 80], [-3, -4, -5, -6, -7], True,
      'relative energy error', tpad=5)
eerr_panel(a, from_pairs(R1_EERR))

a = add_ax(726, 107, 1016, 328)
setup(a, (0, 99.9), (-9.65, -0.56), [0, 20, 40, 60, 80], [-2, -4, -6, -8], True,
      'absolute momentum error', tpad=4.5)
momentum_panel(a, from_pairs(R1_P1), from_uniform(R1_P2, 0, 0.5))

# ---------------- row 2 ----------------
a = add_ax(52, 413, 334, 632)
setup(a, (0, 499.9), (-20.95, -2.07), [0, 100, 200, 300, 400], [-5, -10, -15, -20], False,
      'electrostatic energy')
energy_panel(a, from_zigzag(R2_E2_HI, R2_E2_LO, 5.0), from_pairs(R2_E1),
             from_pairs(R2_B3), from_pairs(R2_LIN))

a = add_ax(403, 423, 675, 634)
setup(a, (0.05, 499.9), (-9.9, -2.36), [100, 200, 300, 400],
      [-3, -4, -5, -6, -7, -8, -9], True, 'relative energy error')
eerr_panel(a, from_pairs(R2_EERR))

a = add_ax(732, 413, 1015, 632)
setup(a, (0, 499.9), (-11.83, -2.51), [0, 100, 200, 300, 400], [-4, -6, -8, -10], True,
      'absolute momentum error')
momentum_panel(a, from_pairs(R2_P1),
               join(from_zigzag(R2_P2_HI, R2_P2_LO, 3.0), from_pairs(R2_P2_TAIL)))

# ---------------- row 3 ----------------
a = add_ax(52, 717, 334, 936)
setup(a, (0, 399.9), (-10.0, -1.85), [0, 100, 200, 300], [-2, -4, -6, -8, -10], True,
      'electrostatic energy')
energy_panel(a, join(from_zigzag(R3_E2_HI, R3_E2_LO, 3.0), from_pairs(R3_E2_TAIL)),
             from_pairs(R3_E1), from_pairs(R3_B3), from_pairs(R3_LIN))

a = add_ax(408, 727, 674, 937)
setup(a, (0.05, 399.9), (-11.0, -1.55), [50, 100, 150, 200, 250, 300, 350],
      [-2, -3, -4, -5, -6, -7, -8, -9, -10], True, 'relative energy error')
eerr_panel(a, from_pairs(R3_EERR))

a = add_ax(732, 717, 1015, 936)
setup(a, (0, 399.9), (-12.3, -0.79), [0, 100, 200, 300], [-2, -4, -6, -8, -10, -12], True,
      'absolute momentum error')
momentum_panel(a, from_pairs(R3_P1), from_pairs(R3_P2))

# ---------------- table-like header and rules ----------------
HDR = 17


def head(xc, ybase, s):
    fig.text(xc / W, 1 - ybase / H, s, ha='center', va='baseline', fontsize=HDR)


head(517, 22, r'$\mathrm{Low\ resolution:}\ N_x = N_{v_1} = N_{v_3} = 32,\ \Delta t = 0.05$')
head(176, 53, r'$\mathrm{electrostatic\ energy}$')
head(517, 53, r'$\mathrm{energy\ error}$')
head(860, 53, r'$\mathrm{momentum\ error}$')
head(517, 84, r'$\mathrm{strong\ Landau\ damping}\ \mathcal{P}_\epsilon = 4.17\,-\,14$')
head(517, 389, r'$\mathrm{Weibel\ instability}\ \mathcal{P}_\epsilon = 2.9e\,-\,14$')
head(517, 691, r'$\mathrm{Weibel\ streaming\ instability\ (asym.)}\ '
               r'\mathcal{P}_\epsilon = 3.01e\,-\,13$')
for yl in [32, 62, 369, 673, 975]:
    fig.add_artist(Line2D([6 / W, 1028 / W], [1 - yl / H, 1 - yl / H], color='#333333',
                          lw=1.1, transform=fig.transFigure))

fig.savefig('out.png', dpi=100)
